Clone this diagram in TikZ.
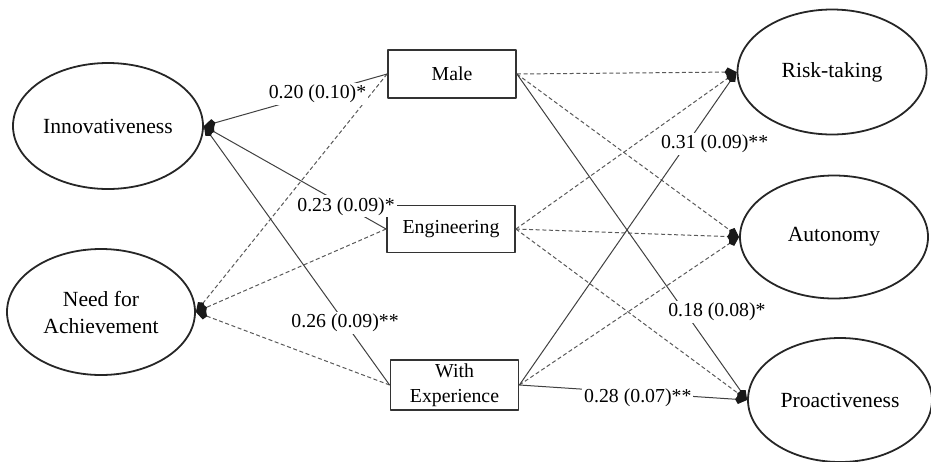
\documentclass[tikz,border=0pt]{standalone}
\usepackage{fontspec}
\setmainfont{Liberation Serif}
\usetikzlibrary{arrows.meta,shapes.geometric}
\begin{document}
\begin{tikzpicture}[x=0.5pt, y=-0.5pt, line join=round, >={Kite[length=6pt,width=4.6pt,color=black!90]},
	latent/.style={draw=black!85, line width=0.9pt, ellipse, inner sep=0pt, minimum width=94pt, minimum height=63pt, align=center, font=\fontsize{10.8}{13.5}\selectfont},
	obs/.style={draw=black!80, line width=0.9pt, rectangle, inner sep=0pt, minimum width=64pt, minimum height=24pt, align=center, font=\fontsize{9.9}{12.5}\selectfont},
	sig/.style={->, draw=black!75, line width=0.5pt},
	ns/.style={->, draw=black!65, line width=0.5pt, dash pattern=on 2pt off 1.3pt},
	lbl/.style={fill=white, inner sep=1pt, font=\fontsize{9.9}{12}\selectfont}]
				\useasboundingbox (0,0) rectangle (931,461);
				\node[latent, minimum width=95pt] (innov) at (108,126) {Innovativeness};
				\node[latent] (nach) at (101,312) {Need for\\Achievement};
				\node[latent, minimum width=94.5pt, minimum height=62.5pt] (risk) at (832,72) {Risk-taking};
				\node[latent, minimum height=61.5pt] (auton) at (834,237) {Autonomy};
				\node[latent, minimum width=92pt, minimum height=62pt] (proact) at (840,400) {Proactiveness};
				\node[obs] (male) at (452,74) {Male};
				\node[obs, minimum height=23.5pt] (eng) at (451,229) {Engineering};
				\node[obs, minimum height=25pt] (exp) at (454.5,385) {With\\Experience};
				\draw[ns] (male.west) -- (nach.east);
				\draw[ns] (eng.west) -- (nach.east);
				\draw[ns] (exp.west) -- (nach.east);
				\draw[ns] (male.east) -- (risk.west);
				\draw[ns] (male.east) -- (auton.west);
				\draw[ns] (eng.east) -- (risk.west);
				\draw[ns] (eng.east) -- (auton.west);
				\draw[ns] (eng.east) -- (proact.west);
				\draw[ns] (exp.east) -- (auton.west);
				\draw[sig] (male.west) -- node[lbl, pos=.38] {0.20 (0.10)*} (innov.east);
				\draw[sig] (eng.west) -- node[lbl, pos=.22] {0.23 (0.09)*} (innov.east);
				\draw[sig] (exp.west) -- node[lbl, pos=.24] {0.26 (0.09)**} (innov.east);
				\draw[sig] (male.east) -- node[lbl, pos=.73, xshift=16pt] {0.18 (0.08)*} (proact.west);
				\draw[sig] (exp.east) -- node[lbl, pos=.77, xshift=14pt] {0.31 (0.09)**} (risk.west);
				\draw[sig] (exp.east) -- node[lbl, pos=.52, yshift=-2.5pt] {0.28 (0.07)**} (proact.west);
\end{tikzpicture}
\end{document}
